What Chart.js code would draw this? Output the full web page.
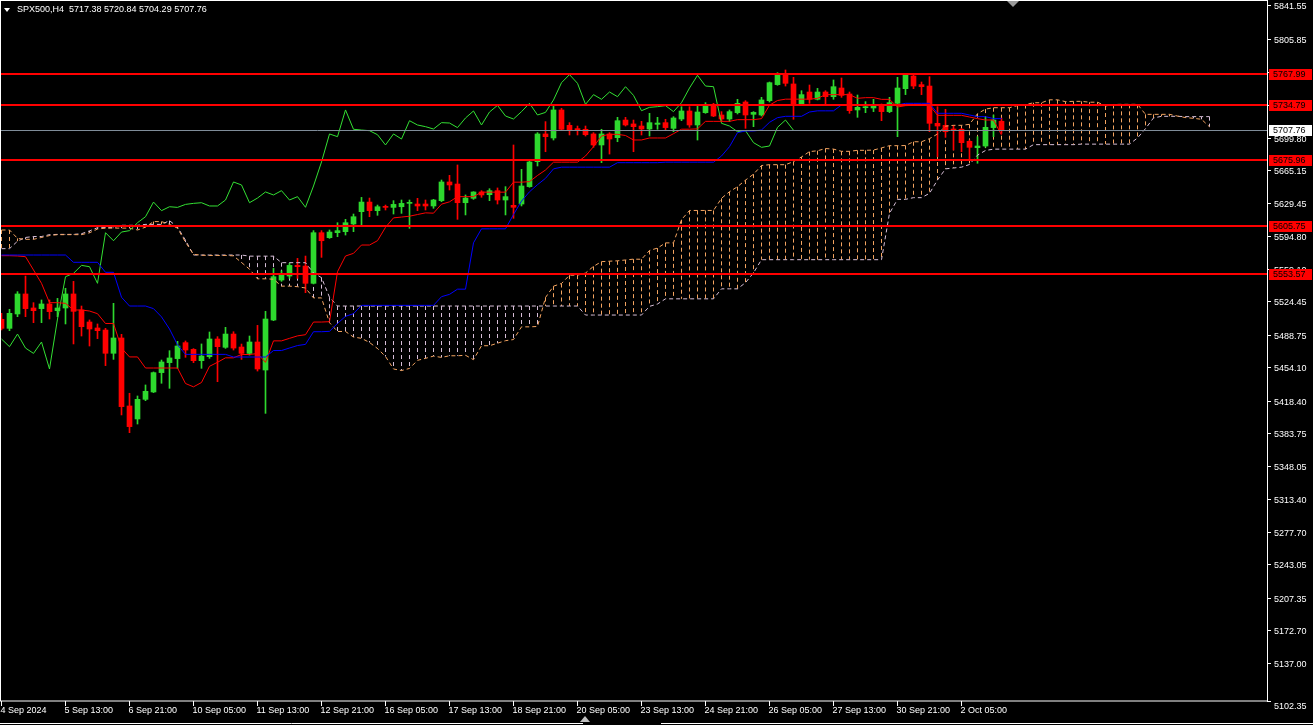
<!DOCTYPE html>
<html>
<head>
<meta charset="utf-8">
<title>SPX500,H4</title>
<script src="https://cdn.jsdelivr.net/npm/chart.js@4.4.1/dist/chart.umd.min.js"></script>
<style>
  html, body { margin: 0; padding: 0; background: #000; overflow: hidden; }
  #wrap { width: 1313px; height: 725px; position: relative; }
</style>
</head>
<body>
<div id="wrap"><canvas id="spxChart"></canvas></div>
<script>
// SPX500 H4 candles, 4 Sep 2024 05:00 .. 2 Oct 2024
const opens = [
  5505.4, 5495.7, 5511.1, 5532.5, 5517.5, 5516.8, 5521.8, 5514.6, 5517.5, 5532.5,
  5515.4, 5502.5, 5496.1, 5493.9, 5469.0, 5485.4, 5412.6, 5398.7, 5419.7, 5427.6,
  5448.3, 5459.0, 5463.3, 5480.4, 5473.2, 5461.1, 5465.4, 5484.3, 5475.4, 5489.6,
  5475.7, 5468.9, 5481.1, 5451.1, 5504.6, 5547.4, 5551.7, 5563.1, 5562.4, 5543.9,
  5598.1, 5592.8, 5598.1, 5599.2, 5607.4, 5620.6, 5630.9, 5621.7, 5625.9, 5625.2,
  5625.9, 5629.5, 5628.8, 5628.8, 5626.7, 5632.4, 5652.4, 5650.2, 5630.2, 5634.9,
  5641.7, 5638.8, 5643.1, 5633.1, 5627.4, 5628.8, 5647.4, 5674.1, 5703.8, 5699.5,
  5729.5, 5713.0, 5709.5, 5708.8, 5703.8, 5692.0, 5703.8, 5699.8, 5718.7, 5714.5,
  5712.3, 5709.1, 5714.1, 5715.9, 5709.8, 5719.8, 5728.4, 5713.4, 5726.6, 5734.4,
  5724.1, 5719.8, 5726.6, 5738.0, 5724.8, 5724.1, 5739.4, 5756.6, 5767.3, 5757.3,
  5735.9, 5748.7, 5740.9, 5748.7, 5743.7, 5753.0, 5746.6, 5729.5, 5731.9, 5731.6,
  5734.4, 5727.7, 5736.6, 5752.3, 5765.8, 5756.6, 5755.1, 5715.2, 5713.0, 5709.1,
  5708.8, 5695.9, 5689.1, 5690.9, 5710.6, 5717.38
];
const highs = [
  5511.8, 5516.1, 5535.0, 5551.7, 5523.2, 5526.1, 5526.1, 5527.8, 5538.6, 5546.0,
  5519.6, 5504.7, 5500.4, 5495.7, 5522.5, 5489.3, 5426.2, 5423.3, 5435.1, 5449.0,
  5461.8, 5471.8, 5481.8, 5482.2, 5474.0, 5479.0, 5491.8, 5486.8, 5496.8, 5492.1,
  5478.9, 5487.5, 5498.9, 5513.9, 5559.9, 5557.4, 5565.3, 5570.6, 5573.1, 5600.3,
  5600.3, 5601.0, 5608.8, 5612.4, 5618.1, 5635.9, 5635.2, 5627.7, 5627.7, 5632.4,
  5633.1, 5633.1, 5634.9, 5633.1, 5633.8, 5654.5, 5659.5, 5670.6, 5638.5, 5642.0,
  5643.1, 5645.2, 5646.0, 5647.4, 5692.0, 5665.9, 5675.2, 5705.2, 5717.0, 5733.7,
  5731.2, 5715.9, 5712.3, 5712.3, 5705.2, 5708.8, 5705.2, 5721.6, 5721.6, 5718.7,
  5717.3, 5725.9, 5721.6, 5719.5, 5722.3, 5733.0, 5733.0, 5733.7, 5737.3, 5736.6,
  5727.7, 5729.5, 5740.9, 5739.4, 5727.7, 5743.0, 5759.4, 5769.4, 5772.3, 5764.4,
  5750.1, 5756.2, 5752.6, 5750.1, 5761.6, 5763.7, 5748.7, 5745.5, 5738.4, 5740.9,
  5735.9, 5743.0, 5764.4, 5767.3, 5768.0, 5759.4, 5765.1, 5733.0, 5730.2, 5713.0,
  5709.8, 5697.3, 5700.9, 5721.6, 5724.1, 5720.84
];
const lows = [
  5493.9, 5493.2, 5508.2, 5508.2, 5501.8, 5501.8, 5505.7, 5508.2, 5500.4, 5479.0,
  5487.5, 5476.8, 5484.7, 5455.8, 5462.5, 5403.0, 5384.0, 5393.3, 5418.3, 5426.9,
  5436.9, 5431.5, 5452.9, 5464.7, 5459.0, 5452.9, 5463.6, 5438.6, 5474.3, 5472.5,
  5462.5, 5467.1, 5450.0, 5404.7, 5503.9, 5546.0, 5549.2, 5549.2, 5533.9, 5543.2,
  5571.7, 5592.0, 5593.8, 5595.6, 5599.2, 5606.3, 5615.2, 5616.7, 5622.4, 5618.1,
  5618.8, 5602.8, 5621.7, 5622.4, 5624.2, 5631.3, 5643.8, 5612.4, 5617.1, 5633.8,
  5636.0, 5632.4, 5628.8, 5617.1, 5613.5, 5626.7, 5646.7, 5669.5, 5684.8, 5697.3,
  5707.3, 5702.7, 5702.7, 5701.6, 5689.5, 5673.1, 5682.3, 5695.5, 5712.3, 5684.8,
  5702.7, 5701.6, 5708.8, 5708.0, 5706.2, 5718.0, 5710.9, 5697.3, 5725.9, 5722.3,
  5717.0, 5717.0, 5725.2, 5709.8, 5711.6, 5723.0, 5738.0, 5755.9, 5755.1, 5719.5,
  5734.8, 5736.6, 5740.2, 5735.9, 5740.9, 5743.0, 5725.9, 5721.6, 5726.6, 5727.7,
  5718.0, 5726.6, 5700.9, 5745.9, 5752.3, 5745.9, 5706.2, 5679.5, 5700.2, 5686.6,
  5684.8, 5675.9, 5672.4, 5689.5, 5700.9, 5704.29
];
const closes = [
  5495.7, 5511.8, 5532.5, 5516.8, 5514.6, 5521.8, 5513.6, 5517.5, 5532.5, 5513.9,
  5497.5, 5495.0, 5493.2, 5469.0, 5485.4, 5411.9, 5390.5, 5419.7, 5428.3, 5448.3,
  5459.7, 5464.0, 5476.8, 5472.5, 5461.1, 5466.1, 5484.3, 5476.1, 5489.6, 5474.6,
  5468.9, 5481.1, 5452.2, 5505.7, 5551.0, 5554.6, 5563.1, 5561.7, 5543.9, 5598.1,
  5589.5, 5598.8, 5600.3, 5608.8, 5615.2, 5630.9, 5621.7, 5625.9, 5625.2, 5628.4,
  5629.5, 5630.2, 5626.7, 5626.7, 5633.1, 5652.4, 5649.2, 5630.2, 5635.2, 5641.7,
  5638.5, 5643.1, 5633.1, 5636.7, 5625.3, 5648.1, 5673.8, 5703.8, 5700.9, 5729.5,
  5708.8, 5708.0, 5707.3, 5703.0, 5692.0, 5703.8, 5698.4, 5718.0, 5713.4, 5711.6,
  5709.1, 5715.9, 5715.5, 5710.6, 5720.9, 5728.4, 5713.4, 5727.3, 5734.4, 5723.0,
  5719.8, 5727.7, 5736.6, 5724.1, 5726.9, 5740.2, 5758.7, 5767.3, 5758.0, 5735.5,
  5745.9, 5740.9, 5748.7, 5743.7, 5754.4, 5745.1, 5728.7, 5732.3, 5733.0, 5734.1,
  5727.7, 5737.3, 5753.0, 5766.6, 5755.1, 5754.4, 5715.2, 5712.3, 5706.2, 5707.3,
  5694.5, 5689.5, 5690.9, 5710.9, 5718.7, 5707.76
];

// Ichimoku lines as drawn on the chart
const tenkan = [
  5573.5, 5573.5, 5573.2, 5572.4, 5558.2, 5543.9, 5523.2, 5523.2, 5522.45, 5515.35,
  5515.35, 5514.25, 5511.4, 5500.9, 5500.9, 5474.5, 5465.1, 5465.1, 5453.25, 5453.25,
  5453.25, 5453.25, 5453.25, 5436.65, 5433.1, 5437.75, 5455.05, 5459.35, 5464.15, 5464.15,
  5467.7, 5467.7, 5468.75, 5459.3, 5482.3, 5482.3, 5485.0, 5487.65, 5488.9, 5502.45,
  5502.45, 5502.85, 5556.35, 5573.15, 5576.0, 5584.9, 5584.9, 5589.55, 5603.8, 5613.95,
  5614.85, 5615.75, 5617.55, 5619.35, 5619.0, 5628.65, 5631.15, 5636.7, 5636.7, 5636.7,
  5641.5, 5641.5, 5641.5, 5641.5, 5652.2, 5652.2, 5652.75, 5659.35, 5665.2, 5673.6,
  5673.6, 5673.6, 5673.6, 5680.2, 5690.2, 5701.6, 5703.4, 5703.4, 5702.15, 5697.35,
  5697.35, 5699.5, 5699.5, 5699.5, 5704.1, 5708.9, 5708.9, 5709.25, 5717.3, 5717.3,
  5717.3, 5717.3, 5719.1, 5719.1, 5719.1, 5720.15, 5734.6, 5739.6, 5741.05, 5741.05,
  5741.05, 5741.05, 5741.95, 5745.9, 5745.9, 5745.9, 5745.9, 5741.95, 5742.65, 5742.65,
  5740.85, 5740.85, 5732.65, 5734.1, 5734.45, 5734.45, 5734.45, 5723.75, 5723.75, 5723.75,
  5723.75, 5721.95, 5720.2, 5718.75, 5718.75, 5702.7
];
const kijun = [
  5574.2, 5574.2, 5574.2, 5574.2, 5574.2, 5574.2, 5574.2, 5574.2, 5574.2, 5566.4,
  5566.4, 5566.4, 5566.4, 5555.7, 5555.7, 5529.0, 5519.6, 5519.6, 5519.6, 5516.8,
  5508.0, 5495.0, 5478.0, 5467.85, 5467.85, 5467.85, 5467.85, 5467.85, 5467.85, 5465.0,
  5465.0, 5465.0, 5465.0, 5465.0, 5471.95, 5471.95, 5474.65, 5477.3, 5478.55, 5492.1,
  5492.1, 5492.5, 5501.05, 5508.55, 5511.4, 5520.3, 5520.3, 5520.3, 5520.3, 5520.3,
  5520.3, 5520.3, 5520.3, 5520.3, 5520.3, 5529.6, 5532.1, 5537.65, 5537.65, 5587.25,
  5602.25, 5602.25, 5602.25, 5602.25, 5617.6, 5631.85, 5641.9, 5649.5, 5656.3, 5666.45,
  5668.25, 5668.25, 5668.25, 5668.25, 5668.25, 5668.25, 5668.25, 5673.05, 5673.05, 5673.05,
  5673.05, 5673.05, 5673.05, 5673.6, 5673.6, 5673.6, 5673.6, 5673.6, 5673.6, 5673.6,
  5680.2, 5690.2, 5705.2, 5707.0, 5707.0, 5708.05, 5716.25, 5721.25, 5722.7, 5722.7,
  5722.7, 5727.3, 5728.55, 5728.55, 5728.55, 5734.8, 5734.8, 5734.8, 5734.8, 5734.8,
  5734.8, 5734.8, 5734.8, 5736.6, 5736.6, 5736.6, 5736.6, 5725.9, 5725.9, 5725.9,
  5725.9, 5724.1, 5722.35, 5722.35, 5720.2, 5720.2
];
// Senkou spans run 26 bars past the last candle (152 slots)
const spanA = [
  5601, 5601, 5592, 5591, 5591, 5593, 5595, 5596, 5596, 5596,
  5596, 5598, 5602, 5603, 5603, 5603, 5603, 5601, 5604, 5610,
  5610, 5607, 5603, 5588, 5575, 5574, 5573.7, 5573.7, 5573.7, 5573.3,
  5566.2, 5559.05, 5548.7, 5548.7, 5548.3, 5540.9, 5540.9, 5540.3, 5538.9, 5528.3,
  5528.3, 5501.75, 5492.35, 5492.35, 5486.4, 5485.0, 5480.6, 5474.1, 5465.6, 5452.25,
  5450.5, 5452.8, 5461.45, 5463.6, 5466.0, 5464.6, 5466.35, 5466.35, 5466.9, 5462.15,
  5477.1, 5477.1, 5479.8, 5482.5, 5483.7, 5497.3, 5497.3, 5497.7, 5528.7, 5540.85,
  5543.7, 5552.6, 5552.6, 5554.9, 5562.05, 5567.1, 5567.6, 5568.0, 5568.9, 5569.8,
  5569.65, 5579.1, 5581.6, 5587.2, 5587.2, 5612.0, 5621.9, 5621.9, 5621.9, 5621.9,
  5634.9, 5642.0, 5647.3, 5654.4, 5660.75, 5670.0, 5670.9, 5670.9, 5670.9, 5674.2,
  5679.2, 5684.9, 5685.8, 5688.2, 5687.6, 5685.2, 5685.2, 5686.3, 5686.3, 5686.55,
  5688.85, 5691.25, 5691.25, 5691.4, 5695.45, 5695.45, 5698.75, 5703.75, 5712.15, 5713.05,
  5713.05, 5714.1, 5725.4, 5730.4, 5731.9, 5731.9, 5731.9, 5734.2, 5735.25, 5737.2,
  5737.2, 5740.35, 5740.35, 5738.4, 5738.7, 5738.7, 5737.8, 5737.8, 5733.7, 5735.35,
  5735.5, 5735.5, 5735.5, 5724.8, 5724.8, 5724.8, 5724.8, 5723.0, 5721.3, 5720.55,
  5719.5, 5711.45
];
const spanB = [
  5581, 5581, 5589, 5593, 5594, 5594, 5596, 5596.3, 5596.3, 5596.3,
  5597, 5600, 5603.5, 5603.5, 5603.5, 5606, 5606, 5606, 5607, 5607,
  5607, 5611, 5604, 5590, 5574.2, 5574.2, 5574.2, 5574.2, 5574.2, 5574.2,
  5574.2, 5573, 5573, 5573, 5573, 5566, 5566, 5566, 5566, 5555,
  5550, 5529, 5519.6, 5519.6, 5519.6, 5519.6, 5519.6, 5519.6, 5519.6, 5519.6,
  5519.6, 5519.6, 5519.6, 5519.6, 5519.6, 5519.6, 5519.6, 5519.6, 5519.6, 5519.6,
  5519.6, 5519.6, 5519.6, 5519.6, 5519.6, 5519.6, 5519.6, 5519.6, 5519.6, 5519.6,
  5519.6, 5519.6, 5519.6, 5509.95, 5509.95, 5509.95, 5509.95, 5509.95, 5509.95, 5509.95,
  5509.95, 5519.25, 5521.75, 5527.3, 5527.3, 5527.3, 5527.3, 5527.3, 5527.3, 5527.3,
  5538.0, 5538.0, 5538.0, 5544.6, 5555.1, 5569.2, 5569.2, 5569.2, 5569.2, 5569.2,
  5569.2, 5569.2, 5569.2, 5569.2, 5569.2, 5569.2, 5569.2, 5569.2, 5569.2, 5569.2,
  5569.2, 5618.8, 5633.8, 5633.8, 5635.6, 5635.6, 5640.25, 5654.5, 5666.45, 5667.35,
  5668.25, 5671.1, 5681.1, 5686.1, 5687.55, 5687.55, 5687.55, 5687.55, 5687.55, 5692.35,
  5692.35, 5692.35, 5692.35, 5692.35, 5692.35, 5692.9, 5692.9, 5692.9, 5692.9, 5692.9,
  5692.9, 5692.9, 5699.5, 5709.5, 5720.9, 5722.7, 5722.7, 5722.7, 5722.35, 5722.35,
  5722.35, 5722.35
];

// horizontal levels drawn on the chart, and the last bid
const levels = [5767.99, 5734.79, 5675.96, 5605.75, 5553.57];
const lastPrice = 5707.76;

// price scale labels
const yTicks = [
  5841.55, 5805.85, 5770.20, 5734.50, 5699.80, 5665.15, 5629.45, 5594.80, 5559.10, 5524.45,
  5488.75, 5454.10, 5418.40, 5383.75, 5348.05, 5313.40, 5277.70, 5243.05, 5207.35, 5172.70,
  5137.00, 5102.35
];
// time scale labels, one every 8 bars
const xTickLabels = [
  '4 Sep 2024', '5 Sep 13:00', '6 Sep 21:00', '10 Sep 05:00', '11 Sep 13:00', '12 Sep 21:00',
  '16 Sep 05:00', '17 Sep 13:00', '18 Sep 21:00', '20 Sep 05:00', '23 Sep 13:00', '24 Sep 21:00',
  '26 Sep 05:00', '27 Sep 13:00', '30 Sep 21:00', '2 Oct 05:00'
];
const headerText = 'SPX500,H4  5717.38 5720.84 5704.29 5707.76';

const bull = '#2ed82e';
const bear = '#ff0000';
const sand = '#f4a460';
const thistle = '#d8bfd8';
const font = '9px "Liberation Sans", Arial, sans-serif';

const candleColors = closes.map((c, i) => (c >= opens[i] ? bull : bear));

// cloud hatching: one dotted vertical per bar between the two spans
const cloudHatch = {
  id: 'cloudHatch',
  beforeDatasetsDraw(chart) {
    const { ctx, chartArea, scales: { x, y } } = chart;
    ctx.save();
    ctx.beginPath();
    ctx.rect(chartArea.left, chartArea.top, chartArea.right - chartArea.left, chartArea.bottom - chartArea.top);
    ctx.clip();
    ctx.lineWidth = 1;
    ctx.setLineDash([4, 3]);
    spanA.forEach((a, i) => {
      const b = spanB[i];
      const px = x.getPixelForValue(i);
      ctx.strokeStyle = a >= b ? sand : thistle;
      ctx.beginPath();
      ctx.moveTo(px, y.getPixelForValue(Math.max(a, b)));
      ctx.lineTo(px, y.getPixelForValue(Math.min(a, b)));
      ctx.stroke();
    });
    ctx.restore();
  }
};

// level lines over the candles
const levelLines = {
  id: 'levelLines',
  afterDatasetsDraw(chart) {
    const { ctx, chartArea, scales: { y } } = chart;
    ctx.save();
    const pl = Math.round(y.getPixelForValue(lastPrice)) + 0.5;
    ctx.strokeStyle = '#7f8c99';
    ctx.lineWidth = 1;
    ctx.beginPath();
    ctx.moveTo(chartArea.left, pl);
    ctx.lineTo(chartArea.right, pl);
    ctx.stroke();
    ctx.strokeStyle = '#ff0000';
    ctx.lineWidth = 2;
    levels.forEach(v => {
      const py = Math.round(y.getPixelForValue(v));
      ctx.beginPath();
      ctx.moveTo(chartArea.left, py);
      ctx.lineTo(chartArea.right, py);
      ctx.stroke();
    });
    ctx.restore();
  }
};

// MT4 style frame, scales and header
const terminalFrame = {
  id: 'terminalFrame',
  beforeDraw(chart) {
    const { ctx, width, height } = chart;
    ctx.save();
    ctx.fillStyle = '#000';
    ctx.fillRect(0, 0, width, height);
    ctx.restore();
  },
  afterDraw(chart) {
    const { ctx, chartArea, scales: { x, y } } = chart;
    const L = chartArea.left, R = chartArea.right, T = chartArea.top, B = chartArea.bottom;
    ctx.save();
    ctx.strokeStyle = '#ffffff';
    ctx.lineWidth = 1;
    ctx.strokeRect(L - 0.5, T - 0.5, R - L + 1, B - T + 0.5);

    ctx.font = font;
    ctx.textBaseline = 'middle';
    ctx.textAlign = 'left';

    // price scale
    yTicks.forEach((v, i) => {
      let py = Math.round(y.getPixelForValue(v)) + 0.5;
      let ty = py + 1;
      if (i === yTicks.length - 1) { py = B + 0.5; ty = B + 6; }
      ctx.strokeStyle = '#ffffff';
      ctx.beginPath();
      ctx.moveTo(R, py);
      ctx.lineTo(R + 4, py);
      ctx.stroke();
      ctx.fillStyle = '#ffffff';
      ctx.fillText(v.toFixed(2), R + 7, ty);
    });

    // time scale
    xTickLabels.forEach((lab, k) => {
      const px = Math.round(x.getPixelForValue(k * 8) - 0.5) + 0.5;
      ctx.strokeStyle = '#ffffff';
      ctx.beginPath();
      ctx.moveTo(px, B);
      ctx.lineTo(px, B + 5);
      ctx.stroke();
      ctx.fillStyle = '#ffffff';
      ctx.fillText(lab, px - 1, B + 10);
    });

    // level tags on the price scale
    levels.forEach(v => {
      const py = Math.round(y.getPixelForValue(v));
      ctx.fillStyle = '#ff0000';
      ctx.fillRect(R + 2, py - 5, 43, 11);
      ctx.fillStyle = '#000000';
      ctx.fillText(v.toFixed(2), R + 6, py + 1);
    });
    const pl = Math.round(y.getPixelForValue(lastPrice));
    ctx.fillStyle = '#ffffff';
    ctx.fillRect(R + 2, pl - 5, 43, 11);
    ctx.fillStyle = '#000000';
    ctx.fillText(lastPrice.toFixed(2), R + 6, pl + 1);

    // header
    ctx.fillStyle = '#ffffff';
    ctx.beginPath();
    ctx.moveTo(4, 8);
    ctx.lineTo(10, 8);
    ctx.lineTo(7, 12);
    ctx.closePath();
    ctx.fill();
    ctx.fillText(headerText, 17, 10);

    // chart shift marker and bottom strip
    ctx.fillStyle = '#9a9a9a';
    ctx.beginPath();
    ctx.moveTo(1007, 1);
    ctx.lineTo(1019, 1);
    ctx.lineTo(1013, 7);
    ctx.closePath();
    ctx.fill();
    ctx.strokeStyle = '#ffffff';
    ctx.beginPath();
    ctx.moveTo(0, 723.5);
    ctx.lineTo(583, 723.5);
    ctx.moveTo(661, 723.5);
    ctx.lineTo(1313, 723.5);
    ctx.stroke();
    ctx.fillStyle = '#c0c0c0';
    ctx.beginPath();
    ctx.moveTo(580, 722);
    ctx.lineTo(590, 722);
    ctx.lineTo(585, 716);
    ctx.closePath();
    ctx.fill();
    ctx.restore();
  }
};

const barIdx = closes.map((_, i) => i);

new Chart(document.getElementById('spxChart').getContext('2d'), {
  type: 'bar',
  data: {
    datasets: [
      {
        type: 'line',
        label: 'Tenkan-sen',
        data: tenkan.map((v, i) => ({ x: i, y: v })),
        borderColor: '#ff0000',
        borderWidth: 1,
        pointRadius: 0,
        order: 2
      },
      {
        type: 'line',
        label: 'Kijun-sen',
        data: kijun.map((v, i) => ({ x: i, y: v })),
        borderColor: '#0000ff',
        borderWidth: 1,
        pointRadius: 0,
        order: 1
      },
      {
        type: 'line',
        label: 'Chikou Span',
        data: closes.slice(26).map((c, i) => ({ x: i, y: c })),
        borderColor: '#33e033',
        borderWidth: 1,
        pointRadius: 0,
        order: 3
      },
      {
        type: 'line',
        label: 'Senkou Span A',
        data: spanA.map((v, i) => ({ x: i, y: v })),
        borderColor: sand,
        borderWidth: 1,
        borderDash: [4, 3],
        pointRadius: 0,
        order: 4
      },
      {
        type: 'line',
        label: 'Senkou Span B',
        data: spanB.map((v, i) => ({ x: i, y: v })),
        borderColor: thistle,
        borderWidth: 1,
        borderDash: [4, 3],
        pointRadius: 0,
        order: 5
      },
      {
        label: 'Body',
        data: barIdx.map(i => ({ x: i, y: [opens[i], closes[i]] })),
        backgroundColor: candleColors,
        barThickness: 5,
        minBarLength: 1,
        grouped: false,
        borderWidth: 0,
        order: 10
      },
      {
        label: 'Wick',
        data: barIdx.map(i => ({ x: i, y: [lows[i], highs[i]] })),
        backgroundColor: candleColors,
        barThickness: 1,
        grouped: false,
        borderWidth: 0,
        order: 11
      }
    ]
  },
  options: {
    responsive: true,
    maintainAspectRatio: false,
    animation: false,
    events: [],
    layout: { padding: { left: 1, top: 1, right: 46, bottom: 24 } },
    scales: {
      x: { type: 'linear', min: -0.0625, max: 158.1875, offset: false, display: false },
      y: { type: 'linear', min: 5096.78, max: 5846.13, display: false }
    },
    plugins: {
      legend: { display: false },
      tooltip: { enabled: false }
    }
  },
  plugins: [terminalFrame, cloudHatch, levelLines]
});
</script>
</body>
</html>
